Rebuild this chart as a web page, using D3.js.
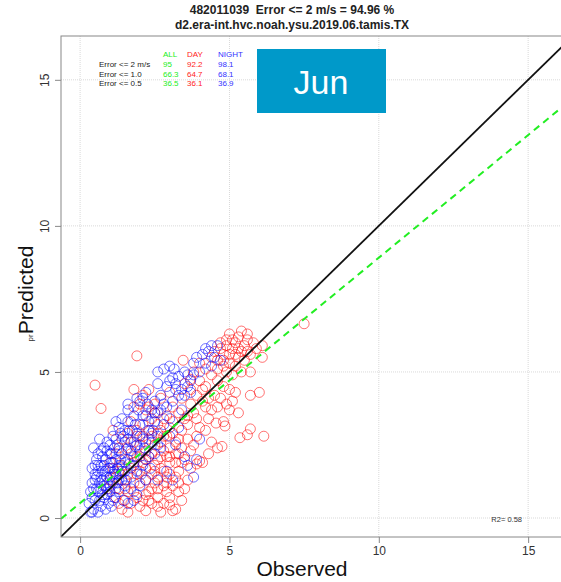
<!DOCTYPE html>
<html>
<head>
<meta charset="utf-8">
<script src="https://cdn.jsdelivr.net/npm/d3@7"></script>
<style>
  body { margin: 0; background: #fff; }
  text { font-family: "Liberation Sans", Arial, sans-serif; }
</style>
</head>
<body>
<script>
// chart values
var titleLines = ["482011039  Error <= 2 m/s = 94.96 %", "d2.era-int.hvc.noah.ysu.2019.06.tamis.TX"];
var ticks = [0, 5, 10, 15];
var legendHeads = ["ALL", "DAY", "NIGHT"];
var legendRows = ["Error <= 2 m/s", "Error <= 1.0", "Error <= 0.5"];
var allVals = [95, 66.3, 36.5];
var dayVals = [92.2, 64.7, 36.1];
var nightVals = [98.1, 68.1, 36.9];
var fitLine = [0.51, 0.84];   // intercept, slope
var r2 = 0.58;
var monthLabel = "Jun";

// day points [observed, predicted]
var dayPts = [
  [5.0,6.3],[5.1,6.1],[4.9,5.9],[5.3,5.8],[5.5,5.9],[5.2,5.6],[5.6,6.1],[4.8,5.6],[4.7,5.8],[5.0,5.3],
  [5.2,5.2],[5.5,5.4],[5.7,5.6],[5.9,5.8],[6.1,5.9],[4.5,5.7],[4.4,5.5],[4.9,5.0],[5.1,4.9],[4.6,5.1],
  [5.4,5.0],[5.7,5.0],[6.1,5.5],[5.3,6.2],[5.6,6.3],[5.8,6.0],[5.4,6.4],[4.7,6.0],[5.0,5.6],[5.3,5.5],
  [3.5,4.6],[3.7,4.4],[4.0,4.7],[4.2,4.5],[4.6,4.7],[4.8,4.5],[5.0,4.4],[5.2,4.3],[4.1,4.0],[4.5,4.2],
  [4.7,4.1],[5.1,4.0],[5.7,4.2],[6.0,4.3],[4.2,3.8],[4.6,3.8],[5.0,3.7],[5.3,3.6],[4.3,3.4],[4.8,3.3],
  [3.8,3.6],[3.6,3.2],[4.0,3.1],[4.55,3.25],[4.85,3.15],[3.9,2.8],[3.4,3.0],[3.6,2.7],
  [5.35,2.75],[5.6,2.85],[5.7,3.05],[6.15,2.8],[4.6,2.4],[4.75,2.45],[4.1,1.9],[4.0,1.95],[3.9,1.85],
  [4.4,2.6],[3.7,2.3],[3.5,2.0],[3.8,2.5],[4.3,2.2],
  [3.2,2.2],[3.0,1.9],[2.8,2.3],[3.3,1.6],[3.6,1.3],[3.5,1.0],[3.4,0.6],[3.2,0.3],[3.1,0.25],[2.7,0.2],
  [2.2,0.25],[1.4,0.3],[2.6,0.7],[2.9,0.9],[2.4,1.0],[2.2,1.3],[2.6,1.4],[2.9,1.2],[3.1,1.1],[2.5,1.8],
  [2.3,2.1],[2.7,2.6],[2.9,2.8],[3.2,2.6],[2.0,1.6],[1.8,1.2],[1.6,0.9],[1.7,0.5],[1.9,0.7],[2.1,0.6],
  [2.4,0.5],[2.8,0.5],[3.0,0.7],[3.3,0.9],[3.0,1.5],[2.7,1.7],[2.4,1.5],[2.1,1.9],[1.9,2.1],[1.7,1.7],
  [1.5,1.3],[1.3,1.0],[1.2,0.7],[1.6,0.2],
  [0.5,4.55],[1.9,5.55],[0.7,3.75],[1.8,4.4],[2.3,4.4],[2.0,3.9],[2.2,3.7],[2.5,3.9],[2.7,4.1],[3.0,4.3],
  [2.4,3.4],[2.6,3.2],[2.9,3.5],[3.1,3.8],[1.7,3.3],[1.9,3.0],[2.1,2.8],[2.3,3.0],[1.4,2.7],[1.6,2.4],
  [1.2,2.2],[1.0,1.9],[1.3,1.6],[1.5,2.0],[2.0,2.5],[2.2,2.3],[1.8,2.6],[2.6,2.9],[1.1,3.0],[3.4,4.1],
  [3.3,3.6],[1.0,1.3],[0.9,1.0],[1.2,1.4],
  [1.6,1.5],[1.8,1.9],[2.0,2.1],[2.2,1.7],[2.4,2.2],[2.6,2.0],[2.8,1.6],[3.0,2.4],[3.2,1.9],[3.4,2.4],
  [2.5,2.5],[2.3,2.7],[2.1,3.2],[1.9,2.8],[2.7,3.0],[2.9,2.1],[3.1,2.9],[3.3,2.7],[3.6,3.5],[3.7,3.9],
  [3.9,4.2],[4.1,4.4],[4.3,4.1],[4.4,4.9],[3.8,5.0],[3.45,5.4],[4.0,5.3],[4.2,5.1],[4.6,5.4],[4.8,5.2],
  [1.4,1.8],[1.7,2.2],[2.0,1.2],[2.3,0.9],[2.5,1.2],[2.8,1.1],[1.5,0.6],[1.3,0.5],[2.2,0.8],[1.9,1.5],
  [3.7,4.75],[7.5,6.65],
  [4.9,6.1],[5.2,6.0],[5.4,5.7],[5.1,5.8],[4.8,5.4],[5.6,5.7],[2.0,0.4],[2.3,0.6],[2.6,1.0],[2.9,1.4],
  [3.2,1.4],[3.4,1.9],[3.7,1.7],[2.5,1.6],[2.2,2.0],[2.7,2.1],[3.0,2.1],[3.3,2.2],[2.4,2.8],[2.8,2.8],
  [3.0,3.1],[3.5,3.4],[3.9,3.4],[4.2,3.0],[4.4,3.7],[4.9,3.9],[3.1,3.3],[2.8,3.4],[2.5,3.6],[2.3,3.8],
  [1.8,3.8],[2.1,4.2],[1.6,2.9],[1.3,2.4],[1.1,1.7],[1.5,1.0],[1.8,0.9],[2.6,0.4],[3.0,0.45],[3.3,1.2]
];

// night points [observed, predicted]
var nightPts = [
  [0.3,0.5],[0.35,0.9],[0.4,1.2],[0.45,0.3],[0.5,0.6],[0.5,1.5],[0.55,2.0],[0.6,0.9],[0.6,1.8],[0.65,1.2],
  [0.7,0.4],[0.7,2.3],[0.75,1.6],[0.8,0.7],[0.8,1.1],[0.85,2.0],[0.9,1.4],[0.9,2.6],[0.95,0.5],[1.0,0.9],
  [1.0,1.7],[1.05,2.2],[1.1,1.2],[1.1,2.8],[1.15,0.7],[1.2,1.5],[1.2,2.0],[1.25,2.5],[1.3,0.9],[1.3,1.8],
  [1.35,2.9],[1.4,1.3],[1.4,2.2],[1.45,0.6],[1.5,1.6],[1.5,2.6],[0.4,1.7],[0.45,2.4],[0.55,1.0],[0.6,0.2],
  [0.65,2.7],[0.7,1.4],[0.75,0.8],[0.8,1.8],[0.85,0.3],[0.9,2.3],[0.95,1.0],[1.0,1.4],[1.05,0.4],[1.1,1.9],
  [1.15,2.4],[1.2,1.0],[1.25,1.7],[1.3,2.3],[0.35,0.2],[0.5,1.3],[0.6,1.6],[0.75,2.1],[0.95,1.7],[1.0,2.5],
  [1.5,3.0],[1.6,2.0],[1.6,3.3],[1.7,1.4],[1.7,2.6],[1.8,2.1],[1.8,3.5],[1.9,1.6],[1.9,2.9],[2.0,2.3],
  [2.0,3.2],[2.1,1.8],[2.1,2.7],[2.2,3.5],[2.3,2.1],[2.3,3.0],[2.4,2.6],[2.4,3.7],[2.5,2.2],[2.5,3.3],
  [2.6,2.8],[1.55,2.35],[1.65,1.85],[1.75,3.0],[1.85,2.45],[1.95,3.7],[2.05,1.5],[2.15,2.4],[2.25,3.9],[2.35,1.7],
  [2.45,3.0],[1.4,3.4],[1.3,3.1],[1.2,3.3],[1.6,3.7],[2.0,4.0],[1.9,4.1],[2.2,4.3],[1.5,1.1],[1.7,1.0],
  [2.0,1.1],[2.2,1.3],[1.9,0.8],[1.6,0.5],[1.8,0.6],[1.6,3.9],[2.1,4.1],[2.5,4.0],[2.7,3.7],[2.2,2.6],
  [2.6,3.6],[2.7,4.2],[2.8,3.9],[2.9,4.5],[3.0,3.4],[3.1,4.0],[3.2,4.4],[3.3,3.1],[3.4,3.7],[3.5,4.2],
  [3.6,4.5],[2.7,2.4],[2.8,3.2],[3.0,2.8],[3.2,2.5],[3.5,2.1],[3.6,1.8],[3.9,2.0],[4.0,2.7],[2.6,2.5],
  [2.9,1.6],[3.1,1.3],[2.6,1.3],[3.8,1.4],
  [2.6,5.0],[2.6,4.6],[3.1,4.8],[3.15,5.1],[3.5,5.0],[3.6,4.9],[3.7,4.7],[3.8,5.3],[3.9,5.5],[4.1,5.6],
  [4.2,5.3],[4.3,5.7],[4.5,5.5],[4.4,5.2],[4.0,5.0],[3.4,4.4],[3.3,4.85],[4.6,5.9],[4.7,5.4],[2.8,5.1],
  [3.0,5.2],[0.4,0.2],
  [0.4,0.7],[0.45,1.0],[0.55,1.4],[0.65,0.6],[0.7,1.0],[0.75,1.3],[0.8,2.4],[0.85,1.6],[0.9,0.8],[1.0,1.1],
  [1.05,1.9],[1.1,0.6],[1.15,1.6],[1.2,2.7],[1.3,1.3],[1.35,2.0],[1.4,1.6],[1.45,2.8],[1.5,1.9],[1.55,1.3],
  [1.6,2.7],[1.65,3.0],[1.7,2.3],[1.8,1.8],[1.85,3.2],[1.9,2.5],[2.0,2.8],[2.1,3.5],[2.2,2.0],[2.3,3.3],
  [2.4,2.9],[2.5,3.6],[0.5,1.8],[0.6,2.2],[0.7,1.8],[0.9,1.2],[1.0,2.2],[1.1,1.5],[1.25,1.2],[1.35,1.5],
  [3.0,4.7],[3.2,4.6],[3.8,4.9],[4.2,5.8],[4.4,5.9],[2.9,3.8],[3.3,4.2],[3.7,4.3]
];

var W = 561, H = 582;
var pLeft = 61, pTop = 36, pBottom = 537, pRight = 561;

var svg = d3.select("body").append("svg")
    .attr("width", W)
    .attr("height", H);

var x = d3.scaleLinear().domain([-0.64, 16.1]).range([pLeft, pRight]);
var y = d3.scaleLinear().domain([-0.65, 16.5]).range([pBottom, pTop]);

svg.append("clipPath").attr("id", "plotclip")
  .append("rect").attr("x", pLeft).attr("y", pTop)
  .attr("width", pRight - pLeft + 20).attr("height", pBottom - pTop);

// grid
var grid = svg.append("g").attr("stroke", "#d9d9d9").attr("stroke-dasharray", "1,1");
grid.selectAll(".gx").data(ticks).enter().append("line")
    .attr("x1", function(d) { return x(d); }).attr("x2", function(d) { return x(d); })
    .attr("y1", pTop).attr("y2", pBottom);
grid.selectAll(".gy").data(ticks).enter().append("line")
    .attr("y1", function(d) { return y(d); }).attr("y2", function(d) { return y(d); })
    .attr("x1", pLeft).attr("x2", pRight + 20);

// points
var pts = svg.append("g").attr("clip-path", "url(#plotclip)").attr("fill", "none");
pts.selectAll(".day").data(dayPts).enter().append("circle")
    .attr("cx", function(d) { return x(d[0]); })
    .attr("cy", function(d) { return y(d[1]); })
    .attr("r", 5)
    .attr("stroke", "rgba(255,0,0,0.55)");
pts.selectAll(".night").data(nightPts).enter().append("circle")
    .attr("cx", function(d) { return x(d[0]); })
    .attr("cy", function(d) { return y(d[1]); })
    .attr("r", 5)
    .attr("stroke", "rgba(0,0,255,0.55)");

// lines
var lines = svg.append("g").attr("clip-path", "url(#plotclip)");
lines.append("line")
    .attr("x1", x(-0.65)).attr("y1", y(-0.65))
    .attr("x2", x(17)).attr("y2", y(17))
    .attr("stroke", "#111").attr("stroke-width", 1.8);
lines.append("line")
    .attr("x1", x(-0.64)).attr("y1", y(fitLine[0] + fitLine[1] * -0.64))
    .attr("x2", x(16.5)).attr("y2", y(fitLine[0] + fitLine[1] * 16.5))
    .attr("stroke", "#22ee22").attr("stroke-width", 2)
    .attr("stroke-dasharray", "7,5");

// frame
svg.append("rect")
    .attr("x", pLeft).attr("y", pTop)
    .attr("width", pRight - pLeft + 20).attr("height", pBottom - pTop)
    .attr("fill", "none").attr("stroke", "#888").attr("stroke-width", 1);

// axes
svg.append("g")
    .attr("transform", "translate(0," + pBottom + ")")
    .call(d3.axisBottom(x).tickValues(ticks).tickSize(6).tickFormat(d3.format("d")))
    .call(function(g) {
      g.select(".domain").remove();
      g.selectAll("line").attr("stroke", "#888");
      g.selectAll("text").attr("font-size", 12).attr("fill", "#333").attr("font-family", null);
    });

svg.append("g")
    .attr("transform", "translate(" + pLeft + ",0)")
    .call(d3.axisLeft(y).tickValues(ticks).tickSize(6).tickFormat(d3.format("d")))
    .call(function(g) {
      g.select(".domain").remove();
      g.selectAll("line").attr("stroke", "#888");
      g.selectAll("text")
        .attr("font-size", 12).attr("fill", "#333").attr("font-family", null)
        .attr("text-anchor", "middle")
        .attr("transform", "rotate(-90)")
        .attr("x", 0).attr("y", -12).attr("dy", 0);
    });

// titles
svg.selectAll(".title").data(titleLines).enter().append("text")
    .attr("x", 292).attr("y", function(d, i) { return 14 + i * 15; })
    .attr("text-anchor", "middle")
    .attr("font-size", 12).attr("font-weight", "bold").attr("fill", "#222")
    .style("white-space", "pre")
    .text(function(d) { return d; });

svg.append("text")
    .attr("x", 302).attr("y", 576)
    .attr("text-anchor", "middle")
    .attr("font-size", 21).attr("fill", "#111")
    .text("Observed");

svg.append("text")
    .attr("transform", "translate(33,290) rotate(-90)")
    .attr("text-anchor", "middle")
    .attr("font-size", 21).attr("fill", "#111")
    .text("Predicted");

svg.append("text")
    .attr("transform", "translate(33,338) rotate(-90)")
    .attr("text-anchor", "middle")
    .attr("font-size", 8).attr("fill", "#333")
    .text("pr");

// legend table
var colX = [163, 187, 218];
var colColors = ["#22ee22", "#ff2222", "#3333ff"];
var cols = [allVals, dayVals, nightVals];
var leg = svg.append("g").attr("font-size", 8);
leg.selectAll(".head").data(legendHeads).enter().append("text")
    .attr("x", function(d, i) { return colX[i]; }).attr("y", 57)
    .attr("fill", function(d, i) { return colColors[i]; })
    .text(function(d) { return d; });
leg.selectAll(".rowlab").data(legendRows).enter().append("text")
    .attr("x", 99).attr("y", function(d, i) { return 67 + i * 9.5; })
    .attr("fill", "#222")
    .text(function(d) { return d; });
cols.forEach(function(vals, c) {
  leg.selectAll(".v" + c).data(vals).enter().append("text")
      .attr("x", colX[c]).attr("y", function(d, i) { return 67 + i * 9.5; })
      .attr("fill", colColors[c])
      .text(function(d) { return d; });
});

// R2
svg.append("text")
    .attr("x", 522).attr("y", 522)
    .attr("text-anchor", "end")
    .attr("font-size", 7.5).attr("fill", "#333")
    .text("R2= " + r2);

// month box
svg.append("rect")
    .attr("x", 257).attr("y", 49).attr("width", 129).attr("height", 64)
    .attr("fill", "#0099c9");
svg.append("text")
    .attr("x", 321).attr("y", 94)
    .attr("text-anchor", "middle")
    .attr("font-family", "Roboto, 'Open Sans', sans-serif")
    .attr("font-size", 34).attr("fill", "#fff")
    .text(monthLabel);
</script>
</body>
</html>
